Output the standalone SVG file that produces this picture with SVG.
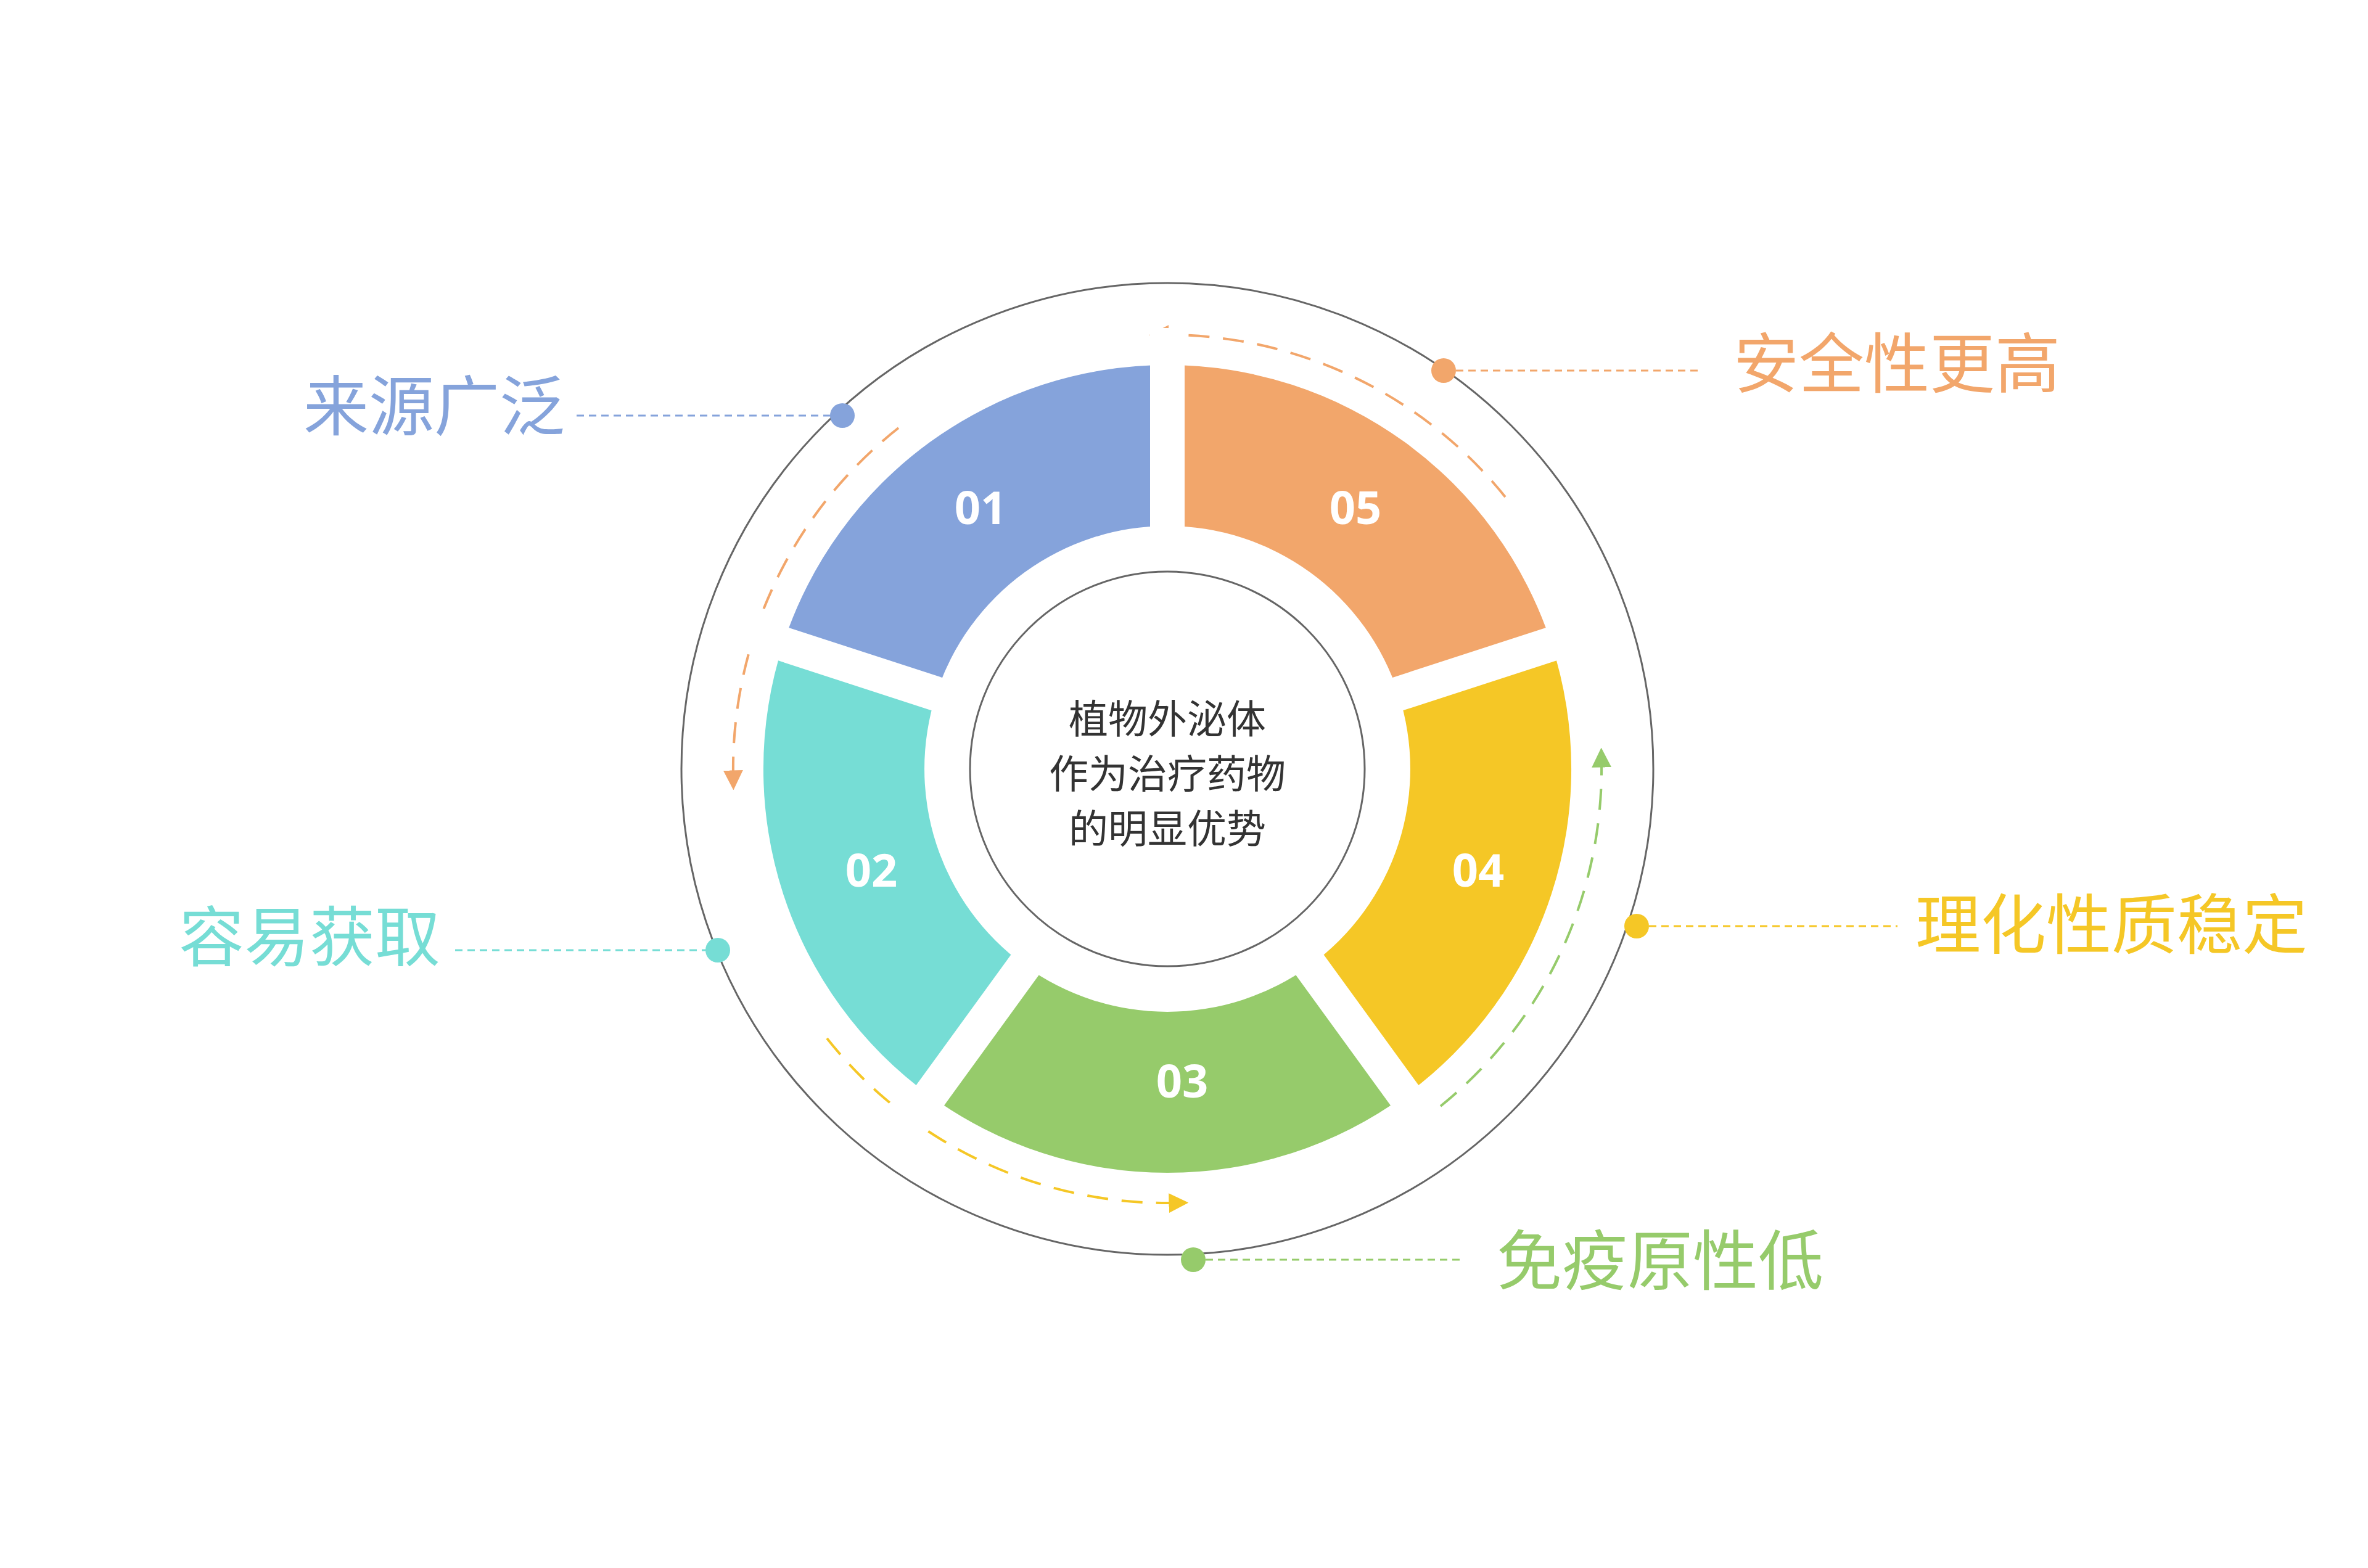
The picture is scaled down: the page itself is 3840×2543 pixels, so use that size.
<svg xmlns="http://www.w3.org/2000/svg" width="3840" height="2543" viewBox="0 0 3840 2543">
<style>
.num{font-family:"Open Sans","Liberation Sans",sans-serif;font-weight:bold;font-size:74px;fill:#fff;text-anchor:middle}
.lbl{font-family:"Noto Sans CJK SC",sans-serif;font-size:106px}
.ctr{font-family:"Noto Sans CJK SC",sans-serif;font-size:64px;fill:#333;text-anchor:middle}
.gap{stroke:#fff;stroke-width:56}
.arc{fill:none;stroke-width:4;stroke-dasharray:34 22}
.ld{stroke-width:3;stroke-dasharray:12 8}
</style>
<defs>
<marker id="mo" viewBox="0 0 10 10" refX="3" refY="5" markerWidth="8" markerHeight="8" orient="auto"><path d="M0,0L10,5L0,10z" fill="#F2A66B"/></marker>
<marker id="my" viewBox="0 0 10 10" refX="3" refY="5" markerWidth="8" markerHeight="8" orient="auto"><path d="M0,0L10,5L0,10z" fill="#F5C726"/></marker>
<marker id="mg" viewBox="0 0 10 10" refX="3" refY="5" markerWidth="8" markerHeight="8" orient="auto"><path d="M0,0L10,5L0,10z" fill="#96CB6B"/></marker>
</defs>
<rect width="3840" height="2543" fill="#fff"/>
<g transform="translate(-10,-8)">
<circle cx="1903" cy="1255" r="788" fill="none" stroke="#666" stroke-width="3"/>
<g id="connectors">
<path class="arc" stroke="#F2A66B" d="M2451,814 A704,704 0 0 0 1896,551" marker-end="url(#mo)"/>
<path class="arc" stroke="#F2A66B" d="M1467,702 A704,704 0 0 0 1199,1267" marker-end="url(#mo)"/>
<path class="arc" stroke="#F5C726" d="M1351,1692 A704,704 0 0 0 1915,1959" marker-end="url(#my)"/>
<path class="arc" stroke="#96CB6B" d="M2346,1802 A704,704 0 0 0 2607,1243" marker-end="url(#mg)"/>
</g>
<g id="seg05"><path fill="#F2A66B" d="M1903,600 A655,655 0 0 1 2526,1052.6 L2277.7,1133.3 A394,394 0 0 0 1903,861Z"/></g>
<g id="seg04"><path fill="#F5C726" d="M2526,1052.6 A655,655 0 0 1 2288,1785 L2134.6,1573.7 A394,394 0 0 0 2277.7,1133.3Z"/></g>
<g id="seg03"><path fill="#96CB6B" d="M2288,1785 A655,655 0 0 1 1518,1785 L1671.4,1573.7 A394,394 0 0 0 2134.6,1573.7Z"/></g>
<g id="seg02"><path fill="#76DDD5" d="M1518,1785 A655,655 0 0 1 1280,1052.6 L1528.3,1133.3 A394,394 0 0 0 1671.4,1573.7Z"/></g>
<g id="seg01"><path fill="#85A3DB" d="M1280,1052.6 A655,655 0 0 1 1903,600 L1903,861 A394,394 0 0 0 1528.3,1133.3Z"/></g>
<g>
<line class="gap" x1="1903" y1="1255" x2="1903" y2="540"/>
<line class="gap" x1="1903" y1="1255" x2="2583" y2="1034"/>
<line class="gap" x1="1903" y1="1255" x2="2323" y2="1833"/>
<line class="gap" x1="1903" y1="1255" x2="1483" y2="1833"/>
<line class="gap" x1="1903" y1="1255" x2="1223" y2="1034"/>
</g>
<text class="num" x="1600" y="858">01</text>
<text class="num" x="2208" y="858">05</text>
<text class="num" x="1423" y="1446">02</text>
<text class="num" x="2407" y="1446">04</text>
<text class="num" x="1927" y="1788">03</text>
<g id="center">
<circle cx="1903" cy="1255" r="320" fill="#fff" stroke="#666" stroke-width="3"/>
<text class="ctr" x="1903" y="1197">植物外泌体</text>
<text class="ctr" x="1903" y="1286">作为治疗药物</text>
<text class="ctr" x="1903" y="1375">的明显优势</text>
</g>
</g>
<g id="leaders">
<line class="ld" stroke="#85A3DB" x1="935" y1="674" x2="1366" y2="674"/>
<line class="ld" stroke="#76DDD5" x1="738" y1="1541" x2="1164" y2="1541"/>
<line class="ld" stroke="#F2A66B" x1="2341" y1="601" x2="2757" y2="601"/>
<line class="ld" stroke="#F5C726" x1="2654" y1="1502" x2="3077" y2="1502"/>
<line class="ld" stroke="#96CB6B" x1="1935" y1="2043" x2="2368" y2="2043"/>
</g>
<g id="n1"><circle cx="1366" cy="674" r="20" fill="#85A3DB"/><text class="lbl" fill="#85A3DB" x="492" y="697">来源广泛</text></g>
<g id="n2"><circle cx="1164" cy="1541" r="20" fill="#76DDD5"/><text class="lbl" fill="#76DDD5" x="290" y="1558">容易获取</text></g>
<g id="n5"><circle cx="2341" cy="601" r="20" fill="#F2A66B"/><text class="lbl" fill="#F2A66B" x="2811" y="628">安全性更高</text></g>
<g id="n4"><circle cx="2654" cy="1502" r="20" fill="#F5C726"/><text class="lbl" fill="#F5C726" x="3106" y="1538">理化性质稳定</text></g>
<g id="n3"><circle cx="1935" cy="2043" r="20" fill="#96CB6B"/><text class="lbl" fill="#96CB6B" x="2427" y="2083">免疫原性低</text></g>
</svg>
